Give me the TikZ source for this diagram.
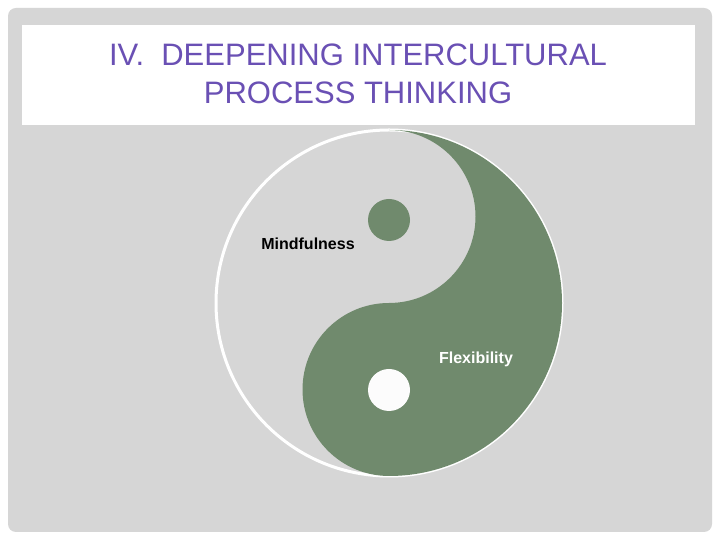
\documentclass[tikz,border=0pt]{standalone}
\usepackage{fontspec}
\setmainfont{Liberation Sans}
\definecolor{bg}{HTML}{D6D6D6}
\definecolor{dk}{HTML}{708A6D}
\definecolor{ttl}{HTML}{6A50B4}
\begin{document}
\begin{tikzpicture}[x=1pt,y=1pt,
  lbl/.style={font=\bfseries\fontsize{16}{18}\selectfont,inner sep=1pt}]
\useasboundingbox (0,0) rectangle (720,540);
\fill[white] (0,0) rectangle (720,540);
\fill[bg,rounded corners=8] (8,8) rectangle (712,532);
\fill[white] (22,415) rectangle (695,515);
\node[text=ttl,align=center,font=\fontsize{31}{38}\selectfont] (title) at (358,466) {IV.\ \ DEEPENING INTERCULTURAL\\PROCESS THINKING};
\coordinate (c) at (389,237);
\draw[white,line width=3] (c) circle[radius=173];
\fill[dk] (389,410) arc[start angle=90,end angle=-90,radius=173]
  arc[start angle=-90,end angle=-270,radius=86.5]
  arc[start angle=-90,end angle=90,radius=86.5] -- cycle;
\fill[dk] (389,320) circle[radius=21];
\fill[white!92!bg] (389,150) circle[radius=21];
\node[lbl] (m) at (308,296) {Mindfulness};
\node[lbl,text=white] (f) at (476,181) {Flexibility};
\end{tikzpicture}
\end{document}
